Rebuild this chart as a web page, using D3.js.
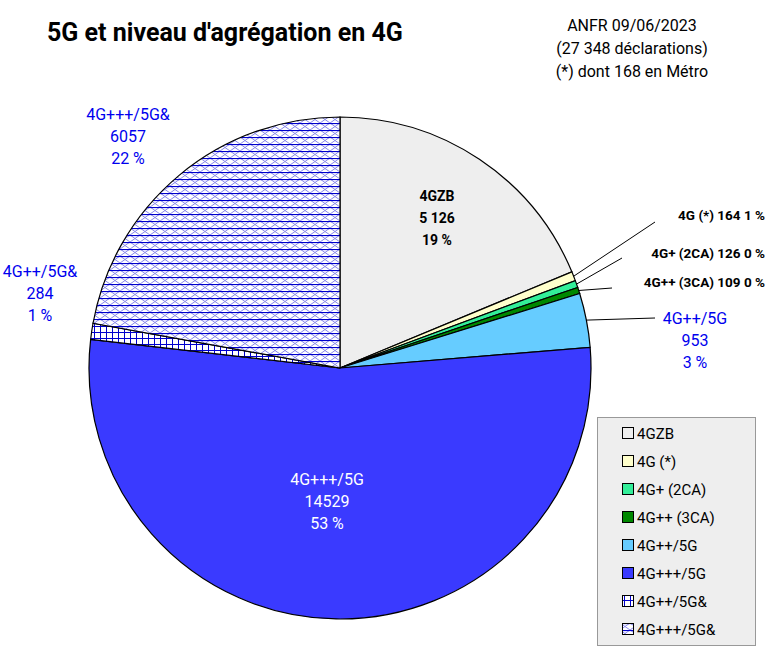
<!DOCTYPE html><html><head><meta charset="utf-8"><script src="https://cdn.jsdelivr.net/npm/d3@7"></script>
<style>body{margin:0;background:#fff}text{font-family:Roboto,"Liberation Sans",sans-serif}</style></head><body>
<svg id="c" width="767" height="652"></svg>
<script>
const categories=["4GZB","4G (*)","4G+ (2CA)","4G++ (3CA)","4G++/5G","4G+++/5G","4G++/5G&","4G+++/5G&"];
const values=[5126,164,126,109,953,14529,284,6057];
const percents=["19 %","1 %","0 %","0 %","3 %","53 %","1 %","22 %"];
const valueLabels=["5 126","164","126","109","953","14529","284","6057"];
const fills=["#eeeeee","#ffffcc","#33ee99","#008800","#66ccff","#3a3aff","url(#grid)","url(#hatch)"];
const svg=d3.select("#c");
const defs=svg.append("defs");
const g1=defs.append("pattern").attr("id","grid").attr("width",6).attr("height",6).attr("patternUnits","userSpaceOnUse");
g1.append("rect").attr("width",6).attr("height",6).attr("fill","#fff");
g1.append("path").attr("d","M0,0.5H6M0.5,0V6").attr("stroke","#0000cc").attr("stroke-width",1);
const h=defs.append("pattern").attr("id","hatch").attr("width",10).attr("height",7).attr("patternUnits","userSpaceOnUse");
h.append("rect").attr("width",10).attr("height",7).attr("fill","#fff");
h.append("path").attr("d","M0,0L10,7M0,7L10,0").attr("stroke","#8888ee").attr("stroke-width",1);
h.append("path").attr("d","M0,0.5H10").attr("stroke","#0000cc").attr("stroke-width",1.2);
const cx=340,cy=368,R=251;
const pie=d3.pie().sort(null).value(d=>d)(values);
const arc=d3.arc().innerRadius(0).outerRadius(R);
const g=svg.append("g").attr("transform",`translate(${cx},${cy})`);
g.selectAll("path").data(pie).join("path").attr("d",arc).attr("fill",(d,i)=>fills[i]).attr("stroke","#000").attr("stroke-width",1.2);
svg.append("text").attr("x",47).attr("y",41).attr("font-size",25).attr("font-weight","bold").text("5G et niveau d'agrégation en 4G");
["ANFR 09/06/2023","(27 348 déclarations)","(*) dont 168 en Métro"].forEach((t,i)=>svg.append("text").attr("x",632).attr("y",31+i*23).attr("text-anchor","middle").attr("font-size",16).text(t));
function block(i,x,y,color,size,weight,name){
  [name||categories[i],valueLabels[i],percents[i]].forEach((t,k)=>svg.append("text").attr("x",x).attr("y",y+k*22).attr("text-anchor","middle").attr("font-size",size).attr("font-weight",weight).attr("fill",color).text(t));
}
block(0,437,201,"#000",14,"bold");
block(5,327,485,"#fff",16,"normal");
block(7,128,120,"#0000ee",16,"normal");
block(6,40,277,"#0000ee",16,"normal");
block(4,695,324,"#0000ee",16,"normal");
const outer=[[1,765,220,655,222],[2,765,258,622,258],[3,765,287,612,288]];
outer.forEach(([i,x,y,lx,ly])=>{
  const a=(pie[i].startAngle+pie[i].endAngle)/2;
  svg.append("line").attr("x1",cx+Math.sin(a)*R).attr("y1",cy-Math.cos(a)*R).attr("x2",lx).attr("y2",ly).attr("stroke","#000");
  svg.append("text").attr("x",x).attr("y",y).attr("text-anchor","end").attr("font-size",13.5).attr("font-weight","bold").text(`${categories[i]} ${valueLabels[i]} ${percents[i]}`);
});
{const a=(pie[4].startAngle+pie[4].endAngle)/2;
svg.append("line").attr("x1",cx+Math.sin(a)*R).attr("y1",cy-Math.cos(a)*R).attr("x2",655).attr("y2",318).attr("stroke","#000");}
const lg=svg.append("g");
lg.append("rect").attr("x",597.5).attr("y",417.5).attr("width",158).attr("height",228).attr("fill","#eeeeee").attr("stroke","#999");
categories.forEach((c,i)=>{
  const y=433+i*28;
  lg.append("rect").attr("x",622.5).attr("y",y-5.5).attr("width",11).attr("height",11).attr("fill",fills[i]).attr("stroke","#000");
  lg.append("text").attr("x",637).attr("y",y+5.5).attr("font-size",15).text(c);
});
</script></body></html>
